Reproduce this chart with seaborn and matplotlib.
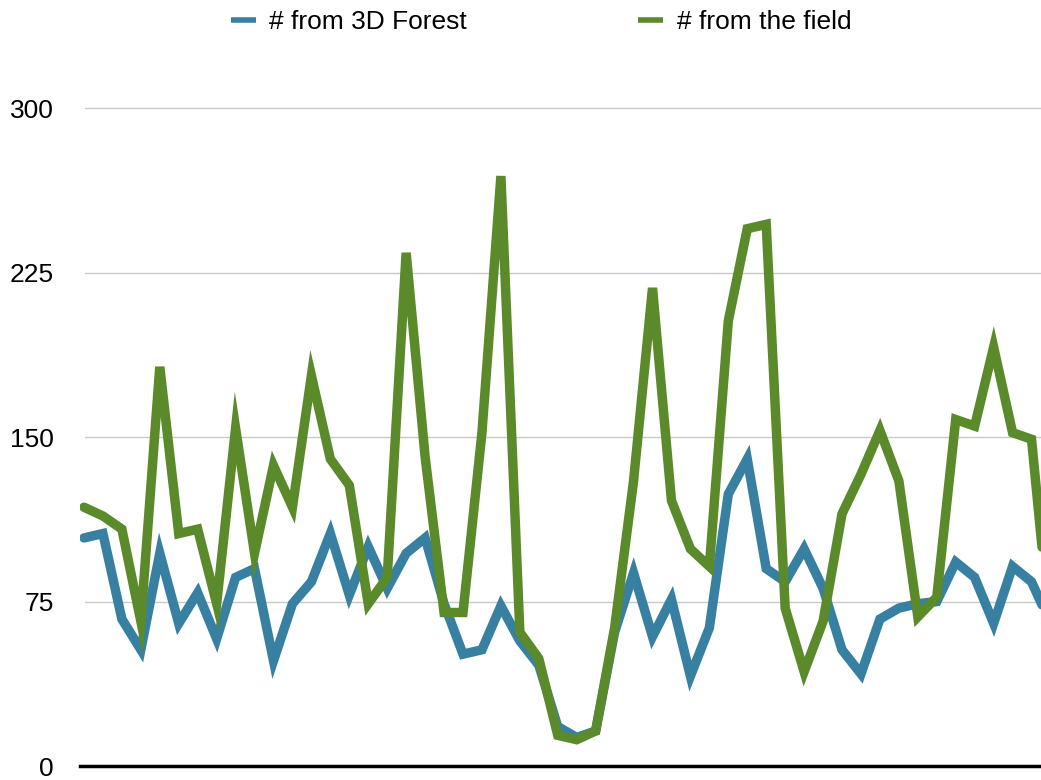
import numpy as np
import pandas as pd
import matplotlib
matplotlib.use('Agg')
import matplotlib.pyplot as plt
import seaborn as sns
from matplotlib.lines import Line2D

# values
forest_3d = [104, 106, 67, 53, 97, 65, 79, 58, 86, 90,
             48, 74, 84, 106, 78, 100, 81, 97, 104, 74,
             51, 53, 73, 57, 46, 18, 13, 16, 61, 88,
             59, 76, 41, 63, 124, 140, 90, 84, 99, 81,
             53, 42, 67, 72, 74, 75, 93, 86, 65, 91,
             84, 65]
field = [118, 114, 108, 66, 182, 106, 108, 74, 154, 97,
         137, 118, 178, 140, 128, 74, 86, 234, 141, 70,
         70, 152, 269, 61, 49, 14, 12, 16, 63, 130,
         218, 121, 99, 91, 203, 245, 247, 72, 43, 66,
         115, 133, 153, 130, 68, 77, 158, 155, 191, 152,
         149, 60]
series_names = ['# from 3D Forest', '# from the field']
y_ticks = [0, 75, 150, 225, 300]
colors = ['#3880a2', '#5a8a2a']

df = pd.DataFrame({
    'idx': list(range(len(forest_3d))) * 2,
    'value': forest_3d + field,
    'series': [series_names[0]] * len(forest_3d) + [series_names[1]] * len(field),
})

sns.set_theme(style='white')
plt.rcParams['font.family'] = ['Liberation Sans', 'DejaVu Sans']

W, H = 1041, 780
fig = plt.figure(figsize=(W / 100, H / 100), dpi=100)
ax = fig.add_axes([80 / W, 14 / H, 961 / W, 706 / H])

sns.lineplot(data=df, x='idx', y='value', hue='series', palette=colors,
             linewidth=6.8, ax=ax, legend=False, solid_joinstyle='miter', zorder=3)

ax.set_xlim(-0.21, 50.5)
ax.set_ylim(0, 706 / 2.193)
ax.set_yticks(y_ticks)
ax.set_yticklabels([str(t) for t in y_ticks], fontsize=19, color='black')
ax.set_xticks([])
ax.set_xlabel('')
ax.set_ylabel('')
ax.tick_params(axis='y', length=0, pad=19)
for t in y_ticks[1:]:
    ax.axhline(t, color='#c9c9c9', linewidth=1.0, zorder=1, xmin=0.005)
for s in ['top', 'right', 'left']:
    ax.spines[s].set_visible(False)
ax.spines['bottom'].set_color('black')
ax.spines['bottom'].set_linewidth(2.5)
ax.spines['bottom'].set_zorder(4)

handles = [Line2D([0], [0], color=c, linewidth=4, solid_capstyle='butt') for c in colors]
leg = fig.legend(handles, series_names, loc='center', bbox_to_anchor=(541 / W, 1 - 22 / H),
                 ncol=2, frameon=False, fontsize=19, handlelength=0.95, handletextpad=0.5,
                 columnspacing=6.5)
for txt in leg.get_texts():
    txt.set_color('black')

fig.savefig('out.png', dpi=100)
